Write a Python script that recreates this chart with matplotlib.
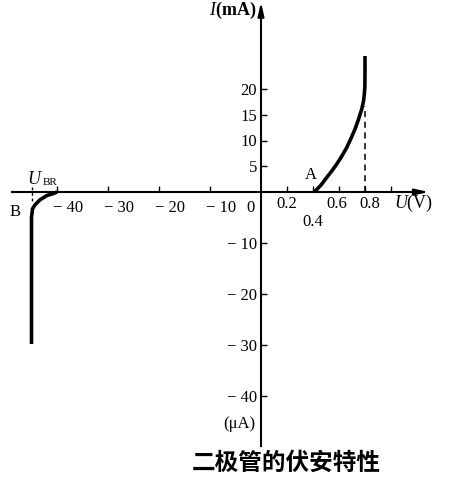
import numpy as np
import matplotlib
matplotlib.use("Agg")
import matplotlib.pyplot as plt
from matplotlib.scale import FuncScale

plt.rcParams["mathtext.fontset"] = "custom"
plt.rcParams["mathtext.rm"] = "Liberation Serif"
plt.rcParams["mathtext.it"] = "Liberation Serif:italic"
plt.rcParams["mathtext.bf"] = "Liberation Serif:bold"

# ---- data ----
# forward branch: U in V, I in mA
fwd_u = [0.41, 0.46, 0.505, 0.545, 0.582, 0.62, 0.659, 0.692, 0.723, 0.75, 0.775, 0.788, 0.795, 0.799, 0.80, 0.80]
fwd_i = [0.0, 1.3, 2.8, 4.1, 5.4, 6.9, 8.6, 10.4, 12.2, 14.1, 16.1, 17.6, 19.0, 20.5, 23.5, 26.4]
# reverse branch: U in V, I in uA
rev_u = [-40.0, -40.7, -42.0, -43.3, -44.3, -44.8, -45.0, -45.0]
rev_i = [0.0, -0.3, -0.7, -1.5, -2.5, -3.3, -5.0, -29.8]
u_br = -45.0
u_knee = 0.8
knee_dash_top = 16.7

xticks_neg = [-40, -30, -20, -10]
xticks_pos = [0.2, 0.4, 0.6, 0.8, 1.0]
xlabels_neg = ["\u2212 40", "\u2212 30", "\u2212 20", "\u2212 10"]
xlabels_pos = ["0.2", "0.4", "0.6", "0.8"]
yticks_pos = [5, 10, 15, 20]
yticks_neg = [-10, -20, -30, -40]
ylabels_pos = ["5", "10", "15", "20"]
ylabels_neg = ["\u2212 10", "\u2212 20", "\u2212 30", "\u2212 40"]
title = "二极管的伏安特性"

# ---- piecewise scales (positive / negative halves drawn at different units) ----
XP, XN = 130.0, 5.1
YP, YN = 5.15, 5.1

def fx(x):
    x = np.asarray(x, dtype=float)
    return np.where(x >= 0, x * XP, x * XN)

def ifx(u):
    u = np.asarray(u, dtype=float)
    return np.where(u >= 0, u / XP, u / XN)

def fy(y):
    y = np.asarray(y, dtype=float)
    return np.where(y >= 0, y * YP, y * YN)

def ify(v):
    v = np.asarray(v, dtype=float)
    return np.where(v >= 0, v / YP, v / YN)

W, H = 449, 480
ox, oy = 261.0, 192.0

fig = plt.figure(figsize=(W / 100, H / 100), dpi=100)
ax = fig.add_axes([0, 0, 1, 1])
ax.set_xscale(FuncScale(ax, (fx, ifx)))
ax.set_yscale(FuncScale(ax, (fy, ify)))
ax.set_xlim(-ox / XN, (W - ox) / XP)
ax.set_ylim(-(H - oy) / YN, oy / YP)
ax.patch.set_visible(False)

serif = "Liberation Serif"
fs = 12

# axes spines through origin
for s in ["top", "right"]:
    ax.spines[s].set_visible(False)
ax.spines["left"].set_position(("data", 0))
ax.spines["bottom"].set_position(("data", 0))
ax.spines["left"].set_linewidth(1.5)
ax.spines["bottom"].set_linewidth(1.5)
ax.spines["bottom"].set_bounds(-48.8, 1.25)
ax.spines["left"].set_bounds(-49.9, 35.5)

ax.set_xticks(xticks_neg + xticks_pos)
ax.set_xticklabels([""] * (len(xticks_neg) + len(xticks_pos)))
ax.tick_params(axis="x", direction="in", length=4, width=1.0)
ax.set_yticks(yticks_neg + yticks_pos)
ax.set_yticklabels(ylabels_neg + ylabels_pos, fontfamily=serif, fontsize=fs)
ax.tick_params(axis="y", direction="in", length=4, width=1.0, pad=3)

# arrowheads
ax.annotate("", xy=(1.29, 0), xytext=(1.2, 0),
            arrowprops=dict(arrowstyle="-|>,head_length=0.8,head_width=0.18",
                            color="black", lw=1.5, shrinkA=0, shrinkB=0))
ax.annotate("", xy=(0, 36.9), xytext=(0, 34),
            arrowprops=dict(arrowstyle="-|>,head_length=0.8,head_width=0.18",
                            color="black", lw=1.5, shrinkA=0, shrinkB=0))

# curves
ax.plot(fwd_u, fwd_i, color="black", lw=2.6, solid_capstyle="butt", solid_joinstyle="round")
ax.plot(rev_u, rev_i, color="black", lw=2.6, solid_capstyle="butt", solid_joinstyle="round")
ax.plot([u_knee, u_knee], [0, knee_dash_top], color="black", lw=1.1, ls=(0, (4, 3)))
ax.plot([u_br, u_br], [1.0, -2.0], color="black", lw=1.0, ls=(0, (2, 2)))

# x tick labels
lbl_y = -3.2
for v, t in zip(xticks_neg, xlabels_neg):
    ax.text(v + 2.2, lbl_y, t, fontfamily=serif, fontsize=fs, ha="center", va="center")
ax.text(-2.1, lbl_y, "0", fontfamily=serif, fontsize=fs, ha="center", va="center")
pos_y = [-2.3, -5.9, -2.3, -2.3]
pos_dx = [-0.005, 0.0, -0.02, 0.035]
for v, t, yy, dx in zip(xticks_pos, xlabels_pos, pos_y, pos_dx):
    ax.text(v + dx, yy, t, fontfamily=serif, fontsize=fs, ha="center", va="center")

ax.text(1.02, -2.3, r"$U$(V)", fontfamily=serif, fontsize=fs + 1, ha="left", va="center")
ax.text(-1.0, 35.2, r"$\mathbf{\mathit{I}}$(mA)", fontfamily=serif, fontsize=fs + 1,
        ha="right", va="center", fontweight="bold")
ax.text(-1.2, -45.5, "(\u03bcA)", fontfamily=serif, fontsize=fs, ha="right", va="center")
ax.text(0.38, 3.3, "A", fontfamily=serif, fontsize=fs, ha="center", va="center")
ax.text(-48.2, -4.0, "B", fontfamily=serif, fontsize=fs, ha="center", va="center")
ax.text(-44.4, 2.4, r"$U$", fontfamily=serif, fontsize=fs + 1, ha="center", va="center")
ax.text(-41.4, 1.9, "BR", fontfamily=serif, fontsize=8, ha="center", va="center")

fig.text(286 / W, 1 - 463 / H, title, fontfamily=["Noto Sans CJK SC", "DejaVu Sans"],
         fontsize=17, ha="center", va="center", fontweight="bold")

fig.savefig("out.png", dpi=100)
